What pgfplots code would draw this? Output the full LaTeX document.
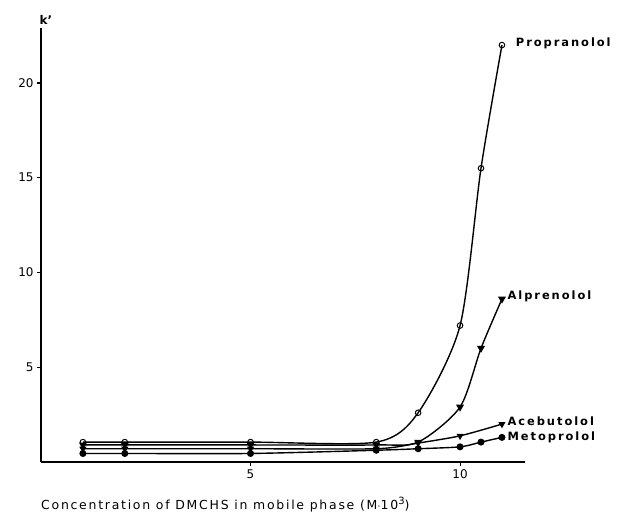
\documentclass[border=0pt]{standalone}
\usepackage{pgfplots}
\pgfplotsset{compat=1.18}
\usepackage{fontspec}
\setmainfont{DejaVu Sans}
\newfontfamily\labfont[LetterSpace=17]{DejaVu Sans Bold}
\newfontfamily\titfont[LetterSpace=14]{DejaVu Sans}
\begin{document}
\begin{tikzpicture}
\useasboundingbox (-41bp,-60bp) rectangle (576bp,462bp);
\begin{axis}[
  at={(0,0)}, anchor=south west,
  scale only axis, width=484bp, height=434bp,
  xmin=0, xmax=11.55, ymin=0, ymax=22.9,
  axis x line=bottom, axis y line=left,
  axis line style={line width=1.5pt, -},
  xtick={5,10}, ytick={5,10,15,20},
  tick align=outside, major tick length=4bp,
  tick style={line width=1.1pt, black},
  tick label style={font=\fontsize{12}{14}\selectfont},
  /pgf/number format/assume math mode=true,
  clip=false,
  every axis plot/.append style={line width=1.4pt, black, smooth, tension=0.45},
]
\addplot[mark=o, mark size=2.8pt, mark options={line width=1pt}] coordinates {(1,1.05)(2,1.05)(5,1.05)(8,1.05)(9,2.6)(10,7.2)(10.5,15.5)(11,22)};
\addplot[mark=triangle*, mark size=3.2pt, mark options={rotate=180}] coordinates {(1,0.9)(2,0.9)(5,0.9)(8,0.9)(9,1.05)(10,2.9)(10.5,6.0)(11,8.6)};
\addplot[mark=triangle*, mark size=2.8pt, mark options={rotate=180}] coordinates {(1,0.7)(2,0.7)(5,0.7)(8,0.7)(9,1.0)(10,1.38)(11,2.0)};
\addplot[mark=*, mark size=2.8pt] coordinates {(1,0.45)(2,0.45)(5,0.45)(8,0.62)(9,0.7)(10,0.8)(10.5,1.05)(11,1.3)};
\node[anchor=west, font=\labfont\fontsize{11.5}{13}\selectfont] at (axis cs:11.25,22.1) {Propranolol};
\node[anchor=west, font=\labfont\fontsize{11.5}{13}\selectfont] at (axis cs:11.05,8.75) {Alprenolol};
\node[anchor=west, font=\labfont\fontsize{11.5}{13}\selectfont] at (axis cs:11.05,2.15) {Acebutolol};
\node[anchor=west, font=\labfont\fontsize{11.5}{13}\selectfont] at (axis cs:11.05,1.3) {Metoprolol};
\node[anchor=south, font=\fontsize{12}{14}\selectfont\bfseries] at (rel axis cs:0.01,1) {k'};
\node[font=\titfont\fontsize{12.5}{15}\selectfont] at (axis cs:4.4,-2.25) {Concentration of DMCHS in mobile phase (M$\cdot$10\raisebox{0.7ex}{\fontsize{10}{10}\selectfont 3})};
\end{axis}
\end{tikzpicture}
\end{document}
